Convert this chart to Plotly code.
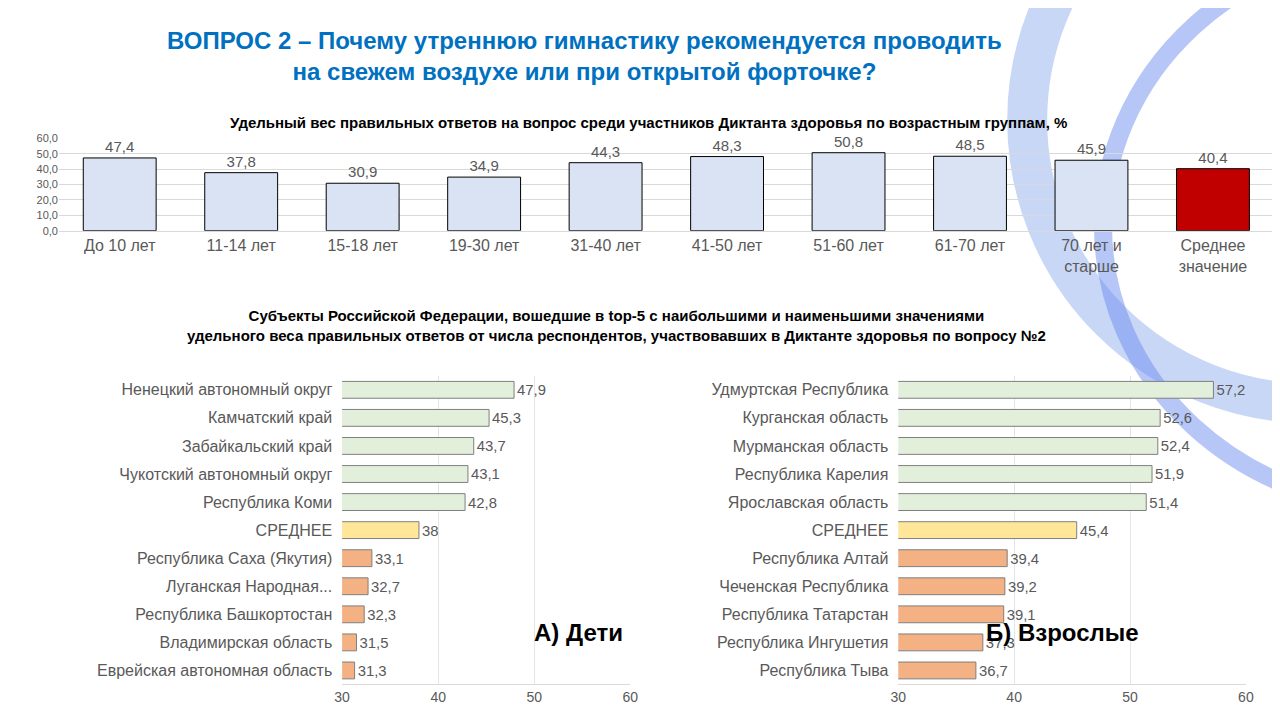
import plotly.graph_objects as go

age_groups = ["До 10 лет", "11-14 лет", "15-18 лет", "19-30 лет", "31-40 лет", "41-50 лет",
              "51-60 лет", "61-70 лет", "70 лет и<br>старше", "Среднее<br>значение"]
age_values = [47.4, 37.8, 30.9, 34.9, 44.3, 48.3, 50.8, 48.5, 45.9, 40.4]

kids_regions = ["Ненецкий автономный округ", "Камчатский край", "Забайкальский край",
                "Чукотский автономный округ", "Республика Коми", "СРЕДНЕЕ",
                "Республика Саха (Якутия)", "Луганская Народная...", "Республика Башкортостан",
                "Владимирская область", "Еврейская автономная область"]
kids_values = [47.9, 45.3, 43.7, 43.1, 42.8, 38, 33.1, 32.7, 32.3, 31.5, 31.3]

adult_regions = ["Удмуртская Республика", "Курганская область", "Мурманская область",
                 "Республика Карелия", "Ярославская область", "СРЕДНЕЕ",
                 "Республика Алтай", "Чеченская Республика", "Республика Татарстан",
                 "Республика Ингушетия", "Республика Тыва"]
adult_values = [57.2, 52.6, 52.4, 51.9, 51.4, 45.4, 39.4, 39.2, 39.1, 37.3, 36.7]

GRAY = "#595959"
FONT = "Liberation Sans"

def fmt(v):
    s = f"{v:.1f}".replace(".", ",")
    return s[:-2] if s.endswith(",0") else s

def region_colors(n):
    return ["#e2efda"] * 5 + ["#ffe699"] + ["#f4b183"] * (n - 6)

fig = go.Figure()

fig.add_trace(go.Bar(
    x=age_groups, y=age_values, xaxis="x", yaxis="y",
    marker=dict(color=["#dae3f3"] * 9 + ["#c00000"], line=dict(color="#000000", width=1)),
    text=[f"{v:.1f}".replace(".", ",") for v in age_values], textposition="outside",
    textfont=dict(size=15, color=GRAY), cliponaxis=False, width=0.6))

fig.add_trace(go.Bar(
    x=kids_values, y=kids_regions, orientation="h", xaxis="x2", yaxis="y2",
    marker=dict(color=region_colors(len(kids_values)), line=dict(color="#7f7f7f", width=1)),
    text=[fmt(v) for v in kids_values], textposition="outside",
    textfont=dict(size=15, color=GRAY), cliponaxis=False, width=0.6))

fig.add_trace(go.Bar(
    x=adult_values, y=adult_regions, orientation="h", xaxis="x3", yaxis="y3",
    marker=dict(color=region_colors(len(adult_values)), line=dict(color="#7f7f7f", width=1)),
    text=[fmt(v) for v in adult_values], textposition="outside",
    textfont=dict(size=15, color=GRAY), cliponaxis=False, width=0.6))

# decorative arcs
fig.add_shape(type="circle", xref="paper", yref="paper", x0=0.80, x1=1.25, y0=0.45, y1=1.25,
              line=dict(color="#c9d7f7", width=40), layer="below")
fig.add_shape(type="circle", xref="paper", yref="paper", x0=0.86, x1=1.35, y0=0.30, y1=1.10,
              line=dict(color="#6d8ff0", width=18), opacity=0.5, layer="below")

fig.update_layout(
    width=1280, height=720, margin=dict(l=0, r=0, t=0, b=0),
    paper_bgcolor="white", plot_bgcolor="rgba(0,0,0,0)", showlegend=False,
    font=dict(family=FONT, color=GRAY),
    separators=", ",
    xaxis=dict(domain=[0.034, 0.995], anchor="y", tickfont=dict(size=16, color=GRAY),
               showline=True, linecolor="#d9d9d9"),
    yaxis=dict(domain=[0.694, 0.824], anchor="x", range=[0, 60], dtick=10,
               tickformat=".1f", tickfont=dict(size=11, color=GRAY),
               gridcolor="#d9d9d9", zeroline=False),
    xaxis2=dict(domain=[0.258, 0.486], anchor="y2", range=[30, 60], dtick=10,
                gridcolor="#e5e5e5", tickfont=dict(size=14, color=GRAY), showline=True,
                linecolor="#d9d9d9"),
    yaxis2=dict(domain=[0.053, 0.489], anchor="x2", autorange="reversed",
                tickfont=dict(size=16, color=GRAY), ticksuffix="  "),
    xaxis3=dict(domain=[0.698, 0.973], anchor="y3", range=[30, 60], dtick=10,
                gridcolor="#e5e5e5", tickfont=dict(size=14, color=GRAY), showline=True,
                linecolor="#d9d9d9"),
    yaxis3=dict(domain=[0.053, 0.489], anchor="x3", autorange="reversed",
                tickfont=dict(size=16, color=GRAY), ticksuffix="  "),
)

fig.add_annotation(text="<b>ВОПРОС 2 – Почему утреннюю гимнастику рекомендуется проводить<br>на свежем воздухе или при открытой форточке?</b>",
                   x=0.45, y=0.985, xref="paper", yref="paper", showarrow=False, yanchor="top",
                   font=dict(size=24, color="#0070c0"))
fig.add_annotation(text="<b>Удельный вес правильных ответов на вопрос среди участников Диктанта здоровья по возрастным группам, %</b>",
                   x=0.5, y=0.862, xref="paper", yref="paper", showarrow=False,
                   font=dict(size=15, color="#000000"))
fig.add_annotation(text="<b>Субъекты Российской Федерации, вошедшие в top-5 с наибольшими и наименьшими значениями<br>удельного веса правильных ответов от числа респондентов, участвовавших в Диктанте здоровья по вопросу №2</b>",
                   x=0.475, y=0.56, xref="paper", yref="paper", showarrow=False,
                   font=dict(size=15, color="#000000"))
fig.add_annotation(text="<b>А) Дети</b>", x=0.445, y=0.105, xref="paper", yref="paper",
                   showarrow=False, font=dict(size=24, color="#000000"))
fig.add_annotation(text="<b>Б) Взрослые</b>", x=0.89, y=0.105, xref="paper", yref="paper",
                   showarrow=False, font=dict(size=24, color="#000000"))

fig.write_html("out.html")
